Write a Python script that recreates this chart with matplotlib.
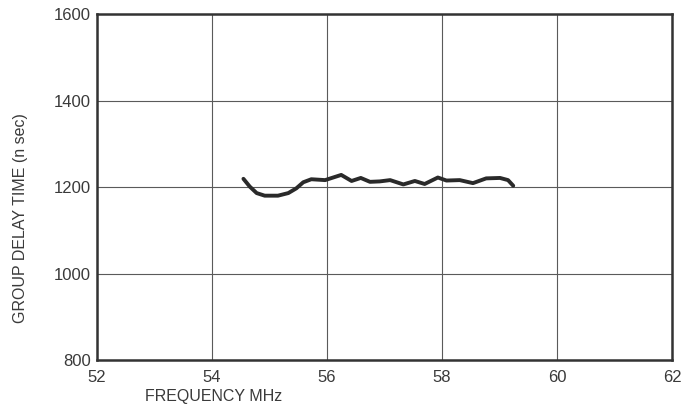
import matplotlib
matplotlib.use("Agg")
import matplotlib.pyplot as plt

# group delay curve
freq_mhz = [54.55, 54.66, 54.78, 54.92, 55.15, 55.33, 55.47, 55.59, 55.73, 55.97,
            56.11, 56.25, 56.43, 56.59, 56.75, 56.92, 57.10, 57.33, 57.53, 57.70,
            57.93, 58.08, 58.31, 58.54, 58.77, 59.01, 59.15, 59.24]
delay_ns = [1219, 1201, 1186, 1180, 1180, 1186, 1197, 1211, 1218, 1216,
            1222, 1228, 1214, 1221, 1212, 1213, 1216, 1206, 1214, 1207,
            1222, 1215, 1216, 1209, 1220, 1221, 1216, 1203]

x_ticks = [52, 54, 56, 58, 60, 62]
y_ticks = [800, 1000, 1200, 1400, 1600]

plt.rcParams['font.family'] = ['Liberation Sans', 'DejaVu Sans']
txt = '#3a3a3a'

fig = plt.figure(figsize=(6.96, 4.08), dpi=100)
ax = fig.add_axes([0.139, 0.1176, 0.8265, 0.848])

ax.plot(freq_mhz, delay_ns, color='#2a2a2a', lw=2.8, solid_capstyle='round',
        solid_joinstyle='round')

ax.set_xlim(52, 62)
ax.set_ylim(800, 1600)
ax.set_xticks(x_ticks)
ax.set_yticks(y_ticks)
ax.grid(True, color='#5a5a5a', lw=0.8)
ax.tick_params(length=0, labelsize=12, colors=txt, pad=4)
ax.tick_params(axis='x', pad=7)
for s in ax.spines.values():
    s.set_color('#333333')
    s.set_linewidth(1.8)

fig.text(0.03, 0.465, 'GROUP DELAY TIME (n sec)', rotation=90, ha='center',
         va='center', fontsize=11.5, color=txt)
fig.text(0.208, 0.027, 'FREQUENCY MHz', ha='left', va='center',
         fontsize=11.5, color=txt)

fig.savefig('out.png', dpi=100)
